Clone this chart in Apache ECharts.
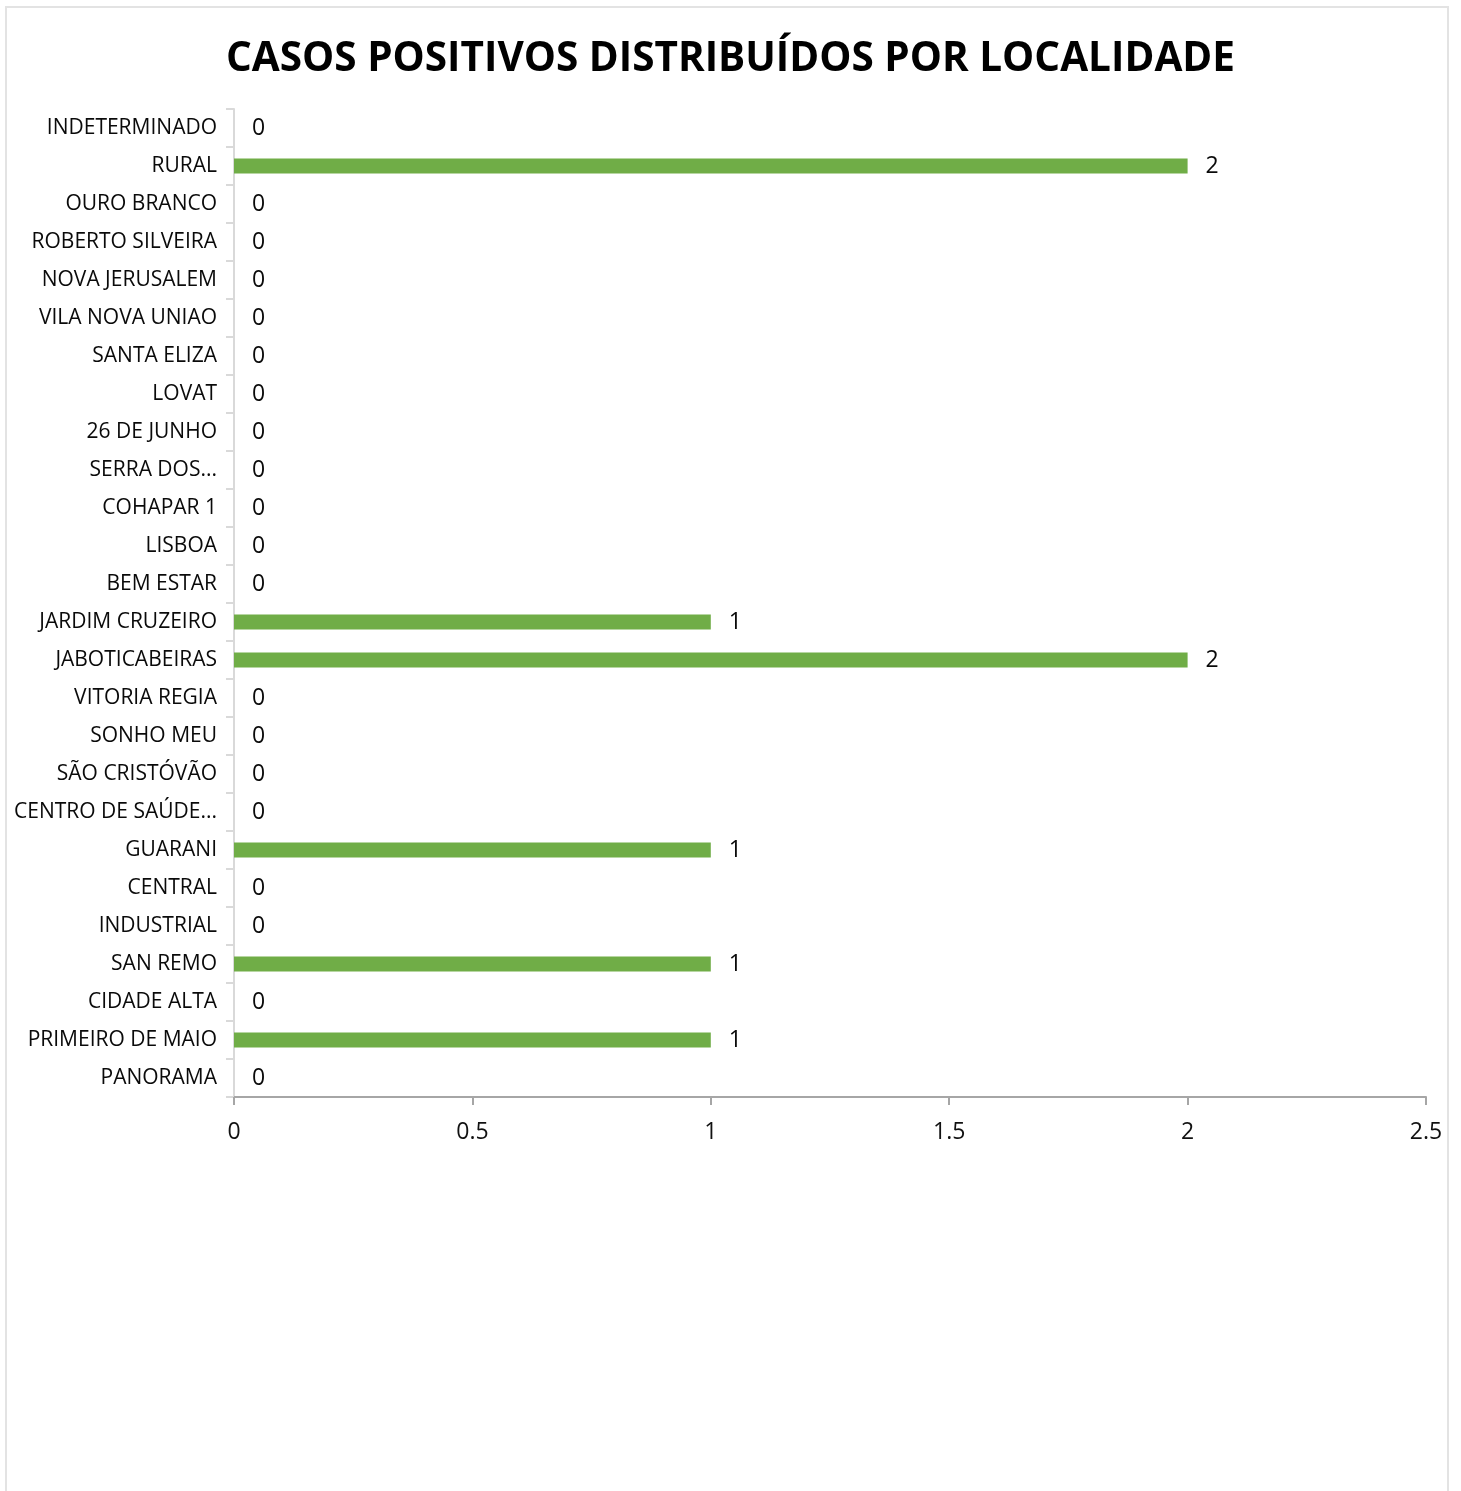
<!DOCTYPE html>
<html>
<head>
<meta charset="utf-8">
<script src="https://cdn.jsdelivr.net/npm/echarts@6/dist/echarts.min.js"></script>
<style>
html,body{margin:0;padding:0;background:#fff;}
#frame{position:absolute;left:5px;top:6px;width:1444px;height:1500px;border:2px solid #e3e3e3;box-sizing:border-box;}
#chart{position:absolute;left:0;top:0;width:1461px;height:1491px;}
</style>
</head>
<body>
<div id="frame"></div>
<div id="chart"></div>
<script>
const titleText = 'CASOS POSITIVOS DISTRIBUÍDOS POR LOCALIDADE';
const categories = ['INDETERMINADO','RURAL','OURO BRANCO','ROBERTO SILVEIRA','NOVA JERUSALEM','VILA NOVA UNIAO','SANTA ELIZA','LOVAT','26 DE JUNHO','SERRA DOS...','COHAPAR 1','LISBOA','BEM ESTAR','JARDIM CRUZEIRO','JABOTICABEIRAS','VITORIA REGIA','SONHO MEU','SÃO CRISTÓVÃO','CENTRO DE SAÚDE...','GUARANI','CENTRAL','INDUSTRIAL','SAN REMO','CIDADE ALTA','PRIMEIRO DE MAIO','PANORAMA'];
const values = [0,2,0,0,0,0,0,0,0,0,0,0,0,1,2,0,0,0,0,1,0,0,1,0,1,0];
const xMin = 0, xMax = 2.5, xInterval = 0.5;

const chart = echarts.init(document.getElementById('chart'), null, {renderer:'canvas'});
const font = '"Open Sans", sans-serif';
chart.setOption({
  animation:false,
  backgroundColor:'transparent',
  title:{text:titleText,left:'center',top:34,textStyle:{fontFamily:font,fontWeight:'bold',fontSize:40.5,color:'#000'}},
  grid:{left:234,right:35,top:109,height:988,containLabel:false},
  xAxis:{type:'value',min:xMin,max:xMax,interval:xInterval,
    axisLine:{show:true,lineStyle:{color:'#a6a6a6',width:2}},
    axisTick:{show:true,length:8,lineStyle:{color:'#a6a6a6',width:2}},
    splitLine:{show:false},
    axisLabel:{margin:24,fontFamily:font,fontSize:23,color:'#111'}},
  yAxis:{type:'category',data:categories,inverse:true,
    axisLine:{show:true,lineStyle:{color:'#d9d9d9',width:2}},
    axisTick:{show:true,length:8,lineStyle:{color:'#d9d9d9',width:2}},
    axisLabel:{margin:17,fontFamily:font,fontSize:21,color:'#0a0a0a',interval:0,padding:[6,0,0,0]}},
  series:[{type:'bar',data:values,barWidth:15,itemStyle:{color:'#70ad47'},
    label:{show:true,position:'right',distance:18,fontFamily:font,fontSize:23,color:'#0a0a0a',padding:[5,0,0,0]}}]
});
</script>
</body>
</html>
